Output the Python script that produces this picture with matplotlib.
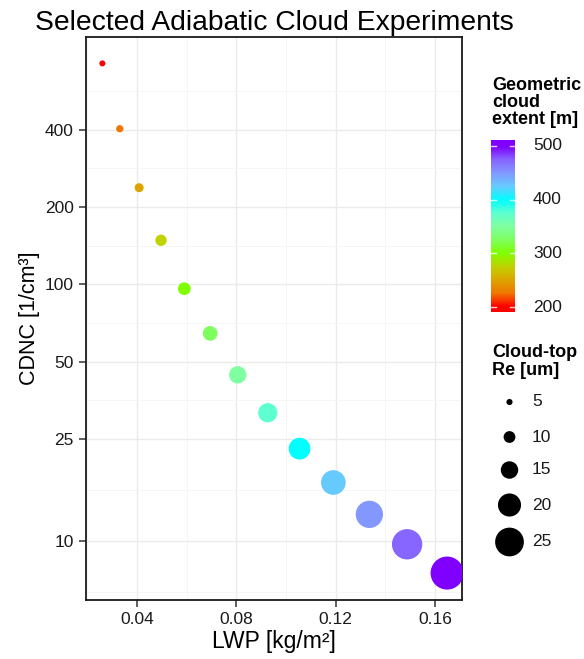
import numpy as np
import matplotlib
matplotlib.use("Agg")
import matplotlib.pyplot as plt
from matplotlib.colors import LinearSegmentedColormap

plt.rcParams['font.family'] = ['Liberation Sans', 'DejaVu Sans']

# data
lwp = [0.0261, 0.0331, 0.0409, 0.0497, 0.0591, 0.0695, 0.0806,
       0.0927, 0.1055, 0.1191, 0.1336, 0.1488, 0.1649]
cdnc = [726, 404, 238, 148.5, 96.2, 64.4, 44.4, 31.6, 22.9, 16.9, 12.7, 9.71, 7.5]
extent = [200, 225, 250, 275, 300, 325, 350, 375, 400, 425, 450, 475, 500]
re_top = [4.9, 6.0, 7.5, 9.6, 10.8, 12.6, 14.9, 16.6, 18.8, 21.4, 23.7, 26.4, 28.8]

x_ticks = [0.04, 0.08, 0.12, 0.16]
y_ticks = [10, 25, 50, 100, 200, 400]
cbar_ticks = [200, 300, 400, 500]
size_breaks = [5, 10, 15, 20, 25]

W, H, DPI = 584, 659, 100

# rainbow-like gradient (red -> chartreuse -> cyan -> purple)
cmap = LinearSegmentedColormap.from_list("ext", [
    "#FF0000", "#F07800", "#DDA500", "#BFD200", "#80FF00", "#7FFF60",
    "#80FFA0", "#5FFFD0", "#00FFFF", "#66CCFF", "#8399FF", "#8766FF", "#8000FF"])


def re_to_area(re):
    # diameter in px roughly linear in Re, converted to points^2
    d = 1.13 * np.asarray(re, dtype=float) + 0.5
    return (d * 72.0 / DPI) ** 2


def frac(x, y, w, h):
    # pixel rect (top-left origin) -> figure fraction
    return [x / W, 1 - (y + h) / H, w / W, h / H]


fig = plt.figure(figsize=(W / DPI, H / DPI), dpi=DPI)
ax = fig.add_axes(frac(86, 37, 376, 563))

ax.set_yscale('log')
ax.set_xlim(0.0195, 0.1709)
ax.set_ylim(5.89, 920)

# grid: major + minor (midpoints in transformed space)
for xv in x_ticks:
    ax.axvline(xv, color='#EBEBEB', lw=1.0, zorder=0)
for xv in [0.02, 0.06, 0.10, 0.14]:
    ax.axvline(xv, color='#F5F5F5', lw=0.6, zorder=0)
for yv in y_ticks:
    ax.axhline(yv, color='#EBEBEB', lw=1.0, zorder=0)
lb = np.log10(y_ticks)
minor_y = list((lb[:-1] + lb[1:]) / 2)
minor_y += [lb[0] - (lb[1] - lb[0]) / 2, lb[-1] + (lb[-1] - lb[-2]) / 2]
for m in minor_y:
    ax.axhline(10 ** m, color='#F5F5F5', lw=0.6, zorder=0)

ax.scatter(lwp, cdnc, c=extent, cmap=cmap, vmin=200, vmax=500,
           s=re_to_area(re_top), linewidths=0, zorder=3)

ax.set_xticks(x_ticks)
ax.set_xticklabels(['0.04', '0.08', '0.12', '0.16'])
ax.set_yticks(y_ticks)
ax.set_yticklabels([str(v) for v in y_ticks])
ax.minorticks_off()
ax.tick_params(axis='both', length=5, width=1.1, color='#333333',
               labelsize=12.5, labelcolor='#1a1a1a', pad=4)
for sp in ax.spines.values():
    sp.set_linewidth(1.3)
    sp.set_color('#1a1a1a')

ax.set_xlabel('LWP [kg/m²]', fontsize=16.5, labelpad=2)
ax.set_ylabel('CDNC [1/cm³]', fontsize=15.5, labelpad=3)
ax.set_title('Selected Adiabatic Cloud Experiments', fontsize=20.3, pad=5)

# colour bar
lo, hi = 190.7, 511
cax = fig.add_axes(frac(491, 140, 24, 172))
grad = np.linspace(lo, hi, 256).reshape(-1, 1)
cax.imshow(grad, cmap=cmap, vmin=200, vmax=500, aspect='auto',
           origin='lower', extent=[0, 1, lo, hi])
cax.set_xlim(0, 1)
cax.set_ylim(lo, hi)
for t in cbar_ticks:
    cax.plot([0, 0.22], [t, t], color='white', lw=1, alpha=0.8)
    cax.plot([0.78, 1], [t, t], color='white', lw=1, alpha=0.8)
    cax.text(1.75, t, str(t), fontsize=12.5, va='center', ha='left',
             color='#1a1a1a', transform=cax.transData, clip_on=False)
cax.axis('off')

# legend overlay in pixel coords
lax = fig.add_axes([0, 0, 1, 1])
lax.set_xlim(0, W)
lax.set_ylim(H, 0)
lax.axis('off')
lax.patch.set_alpha(0)

lax.text(492, 77, 'Geometric\ncloud\nextent [m]', fontsize=13,
         fontweight='bold', va='top', ha='left', linespacing=1.0)
lax.text(492, 344, 'Cloud-top\nRe [um]', fontsize=13,
         fontweight='bold', va='top', ha='left', linespacing=1.05)

leg_y = [402, 437, 470, 505, 542]
lax.scatter([509.5] * len(size_breaks), leg_y, s=re_to_area(size_breaks),
            color='black', linewidths=0)
for yv, b in zip(leg_y, size_breaks):
    lax.text(532, yv, str(b), fontsize=12.5, va='center', ha='left',
             color='#1a1a1a')

fig.savefig('out.png', dpi=DPI)
